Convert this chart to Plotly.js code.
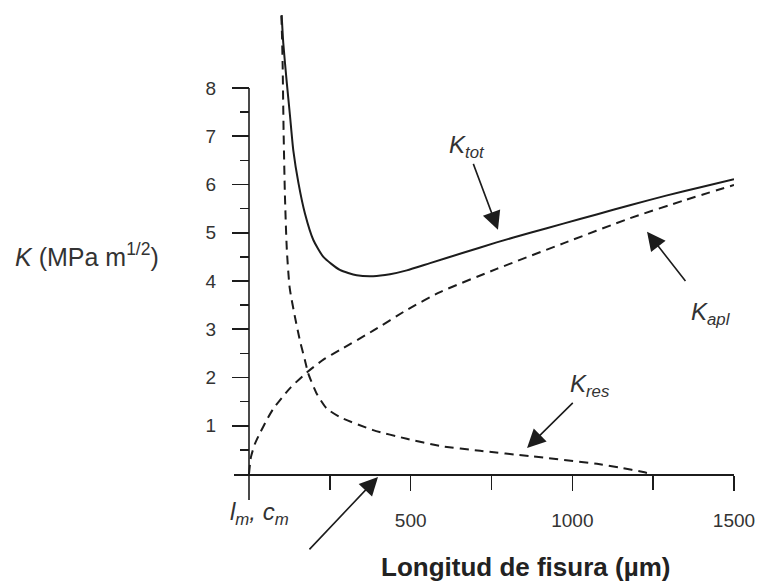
<!DOCTYPE html>
<html>
<head>
<meta charset="utf-8">
<script src="https://cdn.plot.ly/plotly-3.0.1.min.js"></script>
<style>html,body{margin:0;padding:0;background:#fff;}#chart{width:764px;height:587px;}</style>
</head>
<body>
<div id="chart"></div>
<script>
// Ktot (solid)
var ktotX = [101, 106, 117, 127, 137, 153, 173, 199, 230, 281, 333, 384, 436, 488, 560, 660, 766, 870, 972, 1075, 1178, 1290, 1400, 1500];
var ktotY = [9.51, 8.93, 8.10, 7.41, 6.71, 6.03, 5.40, 4.85, 4.50, 4.23, 4.12, 4.10, 4.14, 4.22, 4.37, 4.58, 4.80, 5.00, 5.19, 5.38, 5.57, 5.77, 5.95, 6.11];
// Kapl (dashed, rising)
var kaplX = [0, 6, 18, 34, 55, 75, 127, 178, 230, 281, 384, 488, 591, 766, 972, 1178, 1350, 1500];
var kaplY = [0, 0.35, 0.62, 0.85, 1.12, 1.35, 1.78, 2.10, 2.37, 2.57, 2.97, 3.40, 3.77, 4.25, 4.78, 5.30, 5.68, 5.99];
// Kres (dashed, falling)
var kresX = [100, 102, 104, 107, 111, 117, 126, 142, 158, 173, 183, 209, 240, 281, 384, 488, 591, 715, 869, 1076, 1150, 1219, 1245];
var kresY = [9.5, 9.1, 8.5, 7.1, 5.8, 4.65, 3.85, 3.26, 2.75, 2.36, 2.09, 1.67, 1.36, 1.18, 0.91, 0.73, 0.58, 0.48, 0.37, 0.21, 0.13, 0.04, 0.0];
// Ticks
var xTickVals = [500, 1000, 1500];
var xTickText = ['500', '1000', '1500'];
var xMinorVals = [250, 750, 1250];
var yTickVals = [1, 2, 3, 4, 5, 6, 7, 8];
var yTickText = ['1', '2', '3', '4', '5', '6', '7', '8'];
var yMinorVals = [0.5, 1.5, 2.5, 3.5, 4.5, 5.5, 6.5, 7.5];

var xRange = [-46.4, 1500];
var yRange = [-0.539, 9.617];

var ink = '#1c1c1c';
var textInk = '#333333';
var fontFam = 'Liberation Sans, Arial, sans-serif';

var traces = [
  {x: ktotX, y: ktotY, mode: 'lines', name: 'Ktot', line: {color: ink, width: 2, shape: 'spline', smoothing: 0.6}},
  {x: kaplX, y: kaplY, mode: 'lines', name: 'Kapl', line: {color: ink, width: 2, dash: '9px,6px', shape: 'spline', smoothing: 0.6}},
  {x: kresX, y: kresY, mode: 'lines', name: 'Kres', line: {color: ink, width: 2, dash: '9px,6px', shape: 'spline', smoothing: 0.6}},
  {x: [], y: [], xaxis: 'x2', yaxis: 'y2', mode: 'lines', hoverinfo: 'skip', showlegend: false}
];

function labelArrow(txt, x, y, ax, ay, startOff) {
  return {x: x, y: y, xref: 'x', yref: 'y', ax: ax, ay: ay, text: txt, showarrow: true,
    arrowhead: 2, arrowsize: 2.3, arrowwidth: 1.6, arrowcolor: ink, standoff: 0, startstandoff: startOff || 0,
    font: {family: fontFam, size: 24, color: textInk}};
}

var layout = {
  width: 764, height: 587,
  margin: {l: 234, r: 30, t: 10, b: 87},
  paper_bgcolor: '#ffffff', plot_bgcolor: '#ffffff',
  showlegend: false,
  font: {family: fontFam, color: textInk},
  xaxis: {
    range: xRange, anchor: 'free', position: 0.0531,
    showgrid: false, zeroline: false, showline: true, linecolor: ink, linewidth: 1.6,
    tickmode: 'array', tickvals: xTickVals, ticktext: xTickText,
    ticks: 'outside', ticklen: 15, tickwidth: 1.6, tickcolor: ink, ticklabelstandoff: 14,
    tickfont: {family: fontFam, size: 19, color: textInk}
  },
  yaxis: {
    range: yRange, anchor: 'free', position: 0.03,
    showgrid: false, zeroline: false, showline: false,
    tickmode: 'array', tickvals: yTickVals, ticktext: yTickText,
    ticks: 'outside', ticklen: 17, tickwidth: 1.6, tickcolor: ink, ticklabelstandoff: 12,
    tickfont: {family: fontFam, size: 19, color: textInk}
  },
  xaxis2: {
    range: xRange, overlaying: 'x', anchor: 'free', position: 0.0531,
    showgrid: false, zeroline: false, showline: false, showticklabels: false,
    tickmode: 'array', tickvals: xMinorVals,
    ticks: 'outside', ticklen: 15, tickwidth: 1.6, tickcolor: ink
  },
  yaxis2: {
    range: yRange, overlaying: 'y', anchor: 'free', position: 0.03,
    showgrid: false, zeroline: false, showline: false, showticklabels: false,
    tickmode: 'array', tickvals: yMinorVals,
    ticks: 'outside', ticklen: 9, tickwidth: 1.6, tickcolor: ink
  },
  shapes: [
    {type: 'line', xref: 'x', yref: 'y', x0: 0, x1: 0, y0: -0.539, y1: 8, line: {color: ink, width: 1.6}}
  ],
  annotations: [
    labelArrow('<i>K<sub>tot</sub></i>', 770, 5.06, -31, -83, 0),
    labelArrow('<i>K<sub>apl</sub></i>', 1231, 5.02, 64, 82, 20),
    labelArrow('<i>K<sub>res</sub></i>', 860, 0.54, 63, -62, 0),
    {x: 399, y: -0.06, xref: 'x', yref: 'y', ax: -70, ay: 74, text: '', showarrow: true,
     arrowhead: 2, arrowsize: 2.3, arrowwidth: 1.6, arrowcolor: ink, standoff: 0},
    {xref: 'paper', yref: 'paper', x: -0.012, y: -0.027, text: '<i>l<sub>m</sub>, c<sub>m</sub></i>',
     showarrow: false, xanchor: 'left', yanchor: 'middle', font: {family: fontFam, size: 24, color: textInk}},
    {xref: 'paper', yref: 'paper', x: 0.582, y: -0.137, text: '<b>Longitud de fisura (µm)</b>',
     showarrow: false, xanchor: 'center', yanchor: 'middle', font: {family: fontFam, size: 26, color: '#222222'}},
    {xref: 'paper', yref: 'paper', x: -0.294, y: 0.5, text: '<i>K</i> (MPa m<sup>1/2</sup>)',
     showarrow: false, xanchor: 'center', yanchor: 'middle', font: {family: fontFam, size: 25, color: textInk}}
  ]
};

Plotly.newPlot('chart', traces, layout, {displayModeBar: false, staticPlot: true});
</script>
</body>
</html>
